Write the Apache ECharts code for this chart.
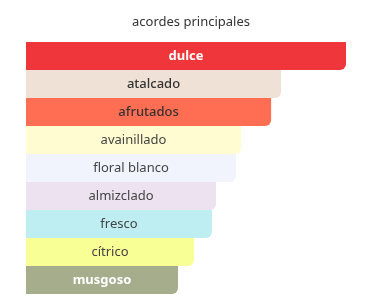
<!DOCTYPE html>
<html><head><meta charset="utf-8">
<script src="https://cdn.jsdelivr.net/npm/echarts@6/dist/echarts.min.js"></script>
<style>html,body{margin:0;padding:0;background:#fff}#c{width:388px;height:305px}</style>
</head><body><div id="c"></div>
<script>
const categories = ['dulce','atalcado','afrutados','avainillado','floral blanco','almizclado','fresco','cítrico','musgoso'];
const values = [100, 79.7, 76.6, 67.2, 65.6, 59.4, 58.1, 52.5, 47.5];
const colors = ['#EF363B','#EFE1D5','#FF6E52','#FFFCD1','#F1F4FC','#EDE3F0','#BEEEF2','#F8FF94','#A5AD8D'];
const labelColors = ['#ffffff','#333333','#333333','#444444','#444444','#444444','#444444','#444444','#ffffff'];
const labelWeights = ['bold','500','500','normal','normal','normal','normal','normal','bold'];

const chart = echarts.init(document.getElementById('c'));
chart.setOption({
  animation: false,
  title: { text: 'acordes principales', left: 186, textAlign: 'center', top: 11,
    textStyle: { fontSize: 13, fontWeight: 'normal', color: '#333', fontFamily: 'Noto Sans' } },
  grid: { left: 26, right: 42, top: 42, bottom: 11 },
  xAxis: { type: 'value', min: 0, max: 100, show: false },
  yAxis: { type: 'category', data: categories, inverse: true, show: false },
  series: [{
    type: 'bar',
    barCategoryGap: 0,
    data: values.map((v, i) => ({
      value: v,
      itemStyle: { color: colors[i], borderRadius: [0, 0, 6, 0] },
      label: { color: labelColors[i], fontWeight: labelWeights[i] }
    })),
    label: { show: true, position: 'inside', formatter: p => categories[p.dataIndex],
      fontSize: 13, fontFamily: 'Noto Sans' }
  }]
});
</script></body></html>
